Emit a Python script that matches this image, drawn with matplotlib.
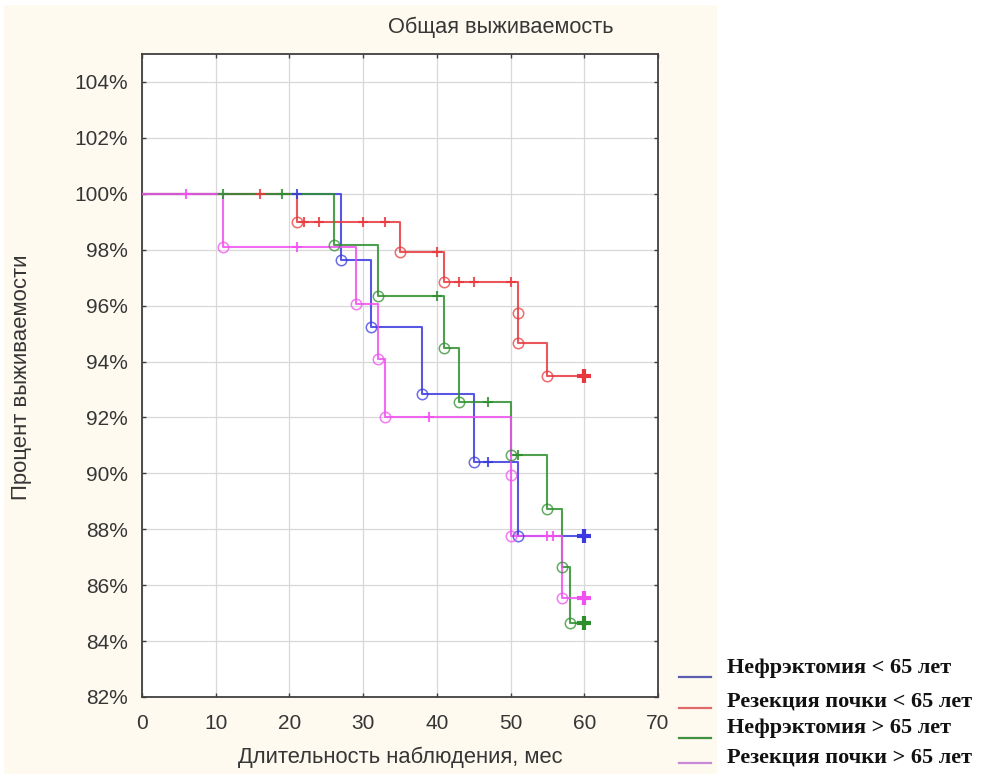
import numpy as np
import matplotlib
matplotlib.use("Agg")
import matplotlib.pyplot as plt
from matplotlib.patches import Rectangle
from matplotlib.lines import Line2D

# ---------------- data ----------------
title = "Общая выживаемость"
xlabel = "Длительность наблюдения, мес"
ylabel = "Процент выживаемости"

series_names = ["Нефрэктомия < 65 лет", "Резекция почки < 65 лет",
                "Нефрэктомия > 65 лет", "Резекция почки > 65 лет"]

blue_event_t = [27, 31, 38, 45, 51]
blue_surv = [97.62, 95.24, 92.84, 90.41, 87.76]
blue_cens_t = [21, 47, 60]

red_event_t = [21, 35, 41, 51, 51, 55]
red_surv = [99.0, 97.93, 96.85, 95.74, 94.67, 93.48]
red_cens_t = [16, 22, 24, 30, 33, 40, 43, 45, 50, 60]

green_event_t = [26, 32, 41, 43, 50, 55, 57, 58]
green_surv = [98.18, 96.35, 94.49, 92.56, 90.66, 88.73, 86.66, 84.65]
green_cens_t = [11, 19, 40, 47, 51, 60]

magenta_event_t = [11, 29, 32, 33, 50, 50, 57]
magenta_surv = [98.1, 96.06, 94.1, 92.03, 89.95, 87.76, 85.54]
magenta_cens_t = [6, 21, 39, 55, 55.8, 60]

end_time = 60
x_ticks = [0, 10, 20, 30, 40, 50, 60, 70]
y_ticks = [82, 84, 86, 88, 90, 92, 94, 96, 98, 100, 102, 104]

colors = ["#3a3ae0", "#e8383d", "#2f8f2f", "#f050f0"]
legend_colors = ["#5c5cb0", "#e06a6a", "#3f8f3f", "#c88ad8"]

groups = [
    (blue_event_t, blue_surv, blue_cens_t),
    (red_event_t, red_surv, red_cens_t),
    (green_event_t, green_surv, green_cens_t),
    (magenta_event_t, magenta_surv, magenta_cens_t),
]

# ---------------- figure ----------------
W, H = 984, 774
fig = plt.figure(figsize=(W / 100, H / 100), dpi=100)
fig.patch.set_facecolor("white")
bg = Rectangle((0.004, 0.0), 717 / W - 0.004, 1 - 5 / H,
               transform=fig.transFigure, facecolor="#fefaf0",
               edgecolor="none", zorder=-10)
fig.patches.append(bg)

ax = fig.add_axes([142 / W, 1 - 697 / H, (658 - 142) / W, (697 - 54) / H])
ax.set_facecolor("white")
ax.set_zorder(1)

sans = ["Liberation Sans", "DejaVu Sans"]
serif = ["Liberation Serif", "DejaVu Serif"]
txtc = "#363636"


def surv_at(t, ev, sv):
    s = 100.0
    for e, v in zip(ev, sv):
        if e <= t:
            s = v
    return s


for (ev, sv, cens), c in zip(groups, colors):
    xs = [0] + list(ev) + [end_time]
    ys = [100] + list(sv) + [sv[-1]]
    ax.step(xs, ys, where="post", color=c, lw=1.5, alpha=0.85, zorder=3)
    ax.plot(ev, sv, "o", ms=7.5, mfc="none", mec=c, mew=1.1, alpha=0.75, zorder=4)
    small = [t for t in cens if t < end_time]
    big = [t for t in cens if t >= end_time]
    ax.plot(small, [surv_at(t, ev, sv) for t in small], "+", ms=7, mew=1.5,
            color=c, alpha=0.85, zorder=4)
    ax.plot(big, [surv_at(t, ev, sv) for t in big], "+", ms=10, mew=3.0,
            color=c, zorder=5)

ax.set_xlim(0, 70)
ax.set_ylim(82, 105)
ax.set_xticks(x_ticks)
ax.set_xticklabels([str(v) for v in x_ticks])
ax.set_yticks(y_ticks)
ax.set_yticklabels([f"{v}%" for v in y_ticks])
ax.grid(True, color="#d8d8d8", lw=0.9, zorder=0)
ax.set_axisbelow(True)
ax.tick_params(direction="in", length=3, width=1, color="#404040",
               top=True, right=True, labelsize=15, labelcolor=txtc)
ax.tick_params(axis="x", pad=12)
ax.tick_params(axis="y", pad=10)
for lab in ax.get_xticklabels() + ax.get_yticklabels():
    lab.set_family(sans)
for sp in ax.spines.values():
    sp.set_color("#404040")
    sp.set_linewidth(1.3)

fig.text(501 / W, 1 - 27 / H, title, ha="center", va="center",
         fontsize=15.7, family=sans, color=txtc)
fig.text(400 / W, 1 - 757 / H, xlabel, ha="center", va="center",
         fontsize=15.8, family=sans, color=txtc)
fig.text(22 / W, 1 - 377 / H, ylabel, ha="center", va="center",
         rotation=90, fontsize=15.9, family=sans, color=txtc)

# legend (manual placement)
text_y = [668, 702, 728, 757]
line_y = [677, 708, 738, 763]
for name, c, ty, ly in zip(series_names, legend_colors, text_y, line_y):
    fig.lines.append(Line2D([679 / W, 711 / W], [1 - ly / H, 1 - ly / H],
                            transform=fig.transFigure, color=c, lw=1.6))
    fig.text(727 / W, 1 - ty / H, name, ha="left", va="center",
             fontsize=16, fontweight="bold", family=serif, color="#111111")

fig.savefig("out.png", dpi=100)
